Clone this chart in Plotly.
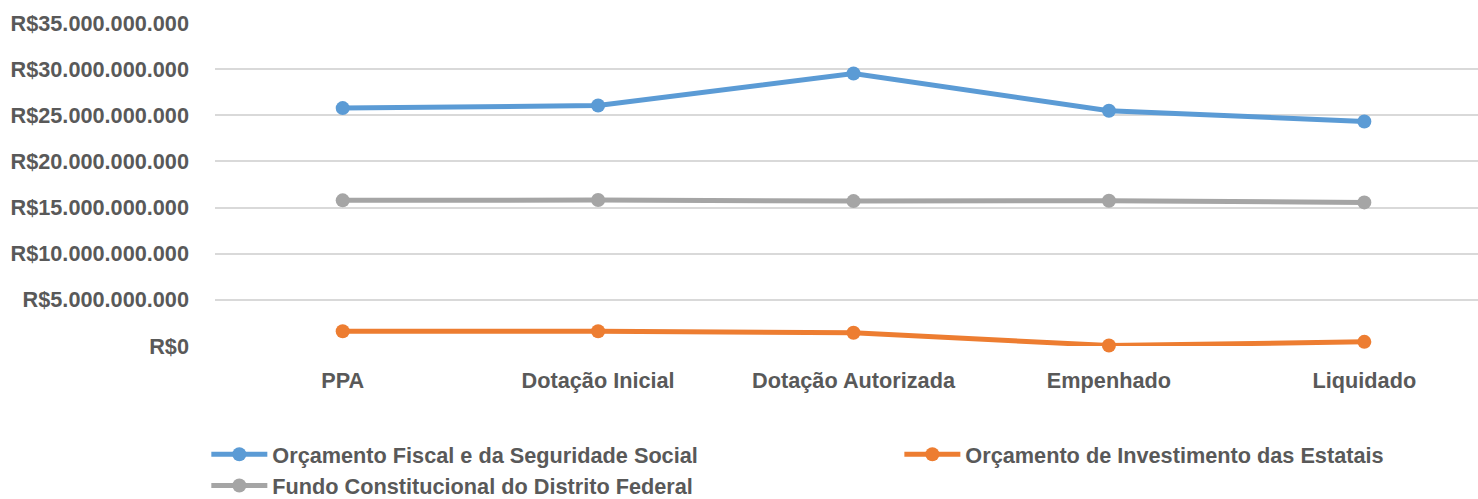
import plotly.graph_objects as go

categories = ["PPA", "Dotação Inicial", "Dotação Autorizada", "Empenhado", "Liquidado"]
fiscal = [25.78e9, 26.06e9, 29.53e9, 25.49e9, 24.33e9]
estatais = [1.60e9, 1.60e9, 1.43e9, 0.05e9, 0.45e9]
fundo = [15.78e9, 15.82e9, 15.70e9, 15.74e9, 15.56e9]
series_names = [
    "Orçamento Fiscal e da Seguridade Social",
    "Orçamento de Investimento das Estatais",
    "Fundo Constitucional do Distrito Federal",
]
colors = ["#5b9bd5", "#ed7d31", "#a5a5a5"]
legend_ids = ["legend", "legend2", "legend"]
ytick_vals = [0, 5e9, 10e9, 15e9, 20e9, 25e9, 30e9, 35e9]
ytick_text = ["R$0", "R$5.000.000.000", "R$10.000.000.000", "R$15.000.000.000",
              "R$20.000.000.000", "R$25.000.000.000", "R$30.000.000.000", "R$35.000.000.000"]

FONT = "Liberation Sans, Arial, sans-serif"
TXT = "#595959"
FS = 21.7

fig = go.Figure()
for name, vals, c, lg in zip(series_names, [fiscal, estatais, fundo], colors, legend_ids):
    fig.add_trace(go.Scatter(
        x=categories, y=vals, name=name, mode="lines+markers",
        line=dict(color=c, width=5), marker=dict(color=c, size=14),
        legend=lg, cliponaxis=False,
    ))

legend_common = dict(
    orientation="v", xref="container", yref="container",
    xanchor="left", yanchor="top", tracegroupgap=0, itemwidth=56,
    bgcolor="rgba(0,0,0,0)",
    font=dict(family=FONT, size=FS, color=TXT, weight="bold"),
)
fig.update_layout(
    width=1478, height=499,
    margin=dict(l=215, r=0, t=23, b=152.5, autoexpand=False),
    plot_bgcolor="white", paper_bgcolor="white",
    font=dict(family=FONT, size=FS, color=TXT, weight="bold"),
    showlegend=True,
    legend=dict(x=0.1396, y=0.131, **legend_common),
    legend2=dict(x=0.6085, y=0.131, **legend_common),
)
fig.update_xaxes(
    type="category", range=[-0.5, 4.445], showgrid=False, showline=False,
    zeroline=False, ticks="", ticklabelstandoff=19, automargin=False,
    tickfont=dict(family=FONT, size=FS, color=TXT, weight="bold"),
)
fig.update_yaxes(
    range=[0, 35e9], tickvals=ytick_vals, ticktext=ytick_text,
    showgrid=True, gridcolor="#d9d9d9", gridwidth=1.5, zeroline=False,
    showline=False, ticks="", ticklabelstandoff=25, automargin=False,
    tickfont=dict(family=FONT, size=FS, color=TXT, weight="bold"),
)

fig.write_html("out.html", config={"displayModeBar": False},
               post_script="document.body.style.margin='0';")
